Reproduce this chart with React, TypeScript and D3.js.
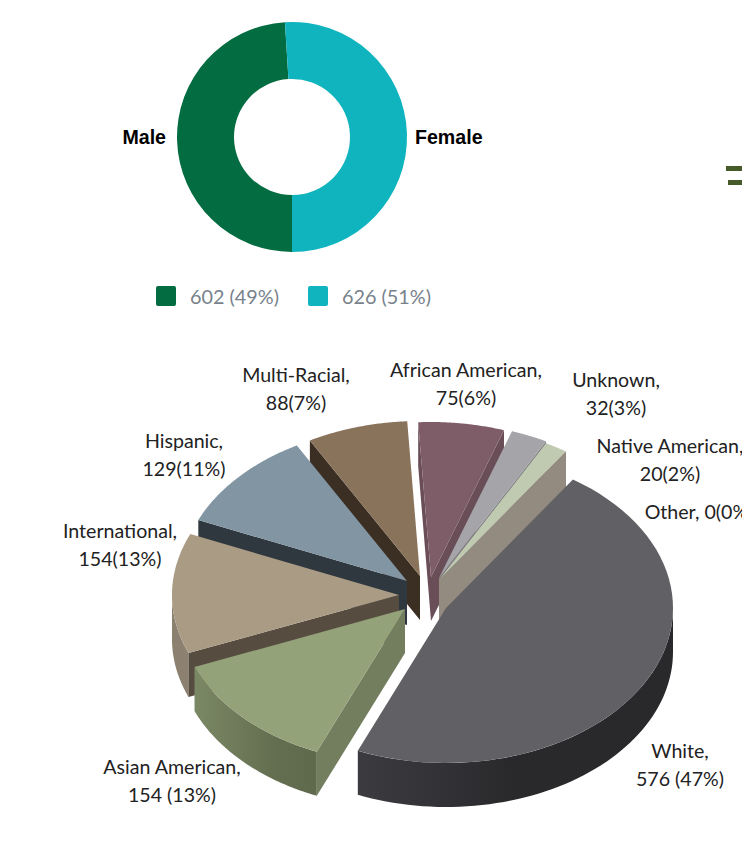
import React from "react";
import * as d3 from "d3";

const genderLabels = ["Male", "Female"];
const genderValues = [602, 626];
const genderLegend = ["602 (49%)", "626 (51%)"];
const genderColors = ["#036c41", "#0fb4be"];

const races = ["White", "Asian American", "International", "Hispanic", "Multi-Racial", "African American", "Unknown", "Native American", "Other"];
const raceValues = [576, 154, 154, 129, 88, 75, 32, 20, 0];
const topColors = ["#616065", "#93a278", "#aa9b84", "#8195a3", "#8a735b", "#7f5d68", "#a5a4a8", "#bfcab0", "#bfcab0"];
const sideColors = ["#2c2c2f", "#6a7556", "#8c8070", "#2f373f", "#3b2e23", "#5e4650", "#7c7b80", "#938b80", "#938b80"];
const faceColors = ["#37363b", "#727e5e", "#564d40", "#2f373f", "#3b2e23", "#6a4e57", "#807f83", "#938b80", "#938b80"];
const explodeX = [31, -10, -16, -8, 5, 16, 24, 24, 24];
const explodeY = [8, 9, -5, -19, -24, -23, -22, -20, -20];
const drawOrder = [5, 6, 7, 8, 4, 3, 2, 1, 0];
const raceLabelLines = [
  ["White,", "576 (47%)"],
  ["Asian American,", "154 (13%)"],
  ["International,", "154(13%)"],
  ["Hispanic,", "129(11%)"],
  ["Multi-Racial,", "88(7%)"],
  ["African American,", "75(6%)"],
  ["Unknown,", "32(3%)"],
  ["Native American,", "20(2%)"],
  ["Other, 0(0%)"],
];
const raceLabelX = [680, 172, 120, 184, 296, 466, 616, 670, 699];
const raceLabelY = [758, 774, 538, 448, 382, 377, 387, 453, 519];

const CX = 415, CY = 600, RX = 227, RY = 155, DEPTH = 44;
const LABEL_FONT = "Lato, Carlito, sans-serif";

const deg = Math.PI / 180;
const racePie = d3.pie<number>().sort(null).startAngle(34 * deg).endAngle(394 * deg);
const genderPie = d3.pie<number>().sort(null).startAngle(Math.PI).endAngle(3 * Math.PI);
const genderArc = d3.arc<d3.PieArcDatum<number>>().innerRadius(58).outerRadius(115);

type P = [number, number];

function rim(a: number, ox: number, oy: number): P {
  return [CX + ox + RX * Math.sin(a), CY + oy - RY * Math.cos(a)];
}

function arcPoints(a0: number, a1: number, ox: number, oy: number): P[] {
  return d3.range(0, 61).map((i) => rim(a0 + ((a1 - a0) * i) / 60, ox, oy));
}

const line = d3.line();

function wedgeParts(i: number, a0: number, a1: number) {
  const ox = explodeX[i], oy = explodeY[i];
  const apex: P = [CX + ox, CY + oy];
  const top = line([apex, ...arcPoints(a0, a1, ox, oy)])! + "Z";
  const down = ([x, y]: P): P => [x, y + DEPTH];
  const parts: { d: string; fill: string }[] = [];
  if (Math.sin(a0) < 0) {
    const p = rim(a0, ox, oy);
    parts.push({ d: line([apex, p, down(p), down(apex)])! + "Z", fill: faceColors[i] });
  }
  if (Math.sin(a1) > 0) {
    const p = rim(a1, ox, oy);
    parts.push({ d: line([apex, p, down(p), down(apex)])! + "Z", fill: faceColors[i] });
  }
  // outer wall: the part of the rim in the lower half of the ellipse
  const lo = Math.max(a0, Math.PI / 2), hi = Math.min(a1, 1.5 * Math.PI);
  let wall: string | null = null;
  if (hi > lo) {
    const pts = arcPoints(lo, hi, ox, oy);
    wall = line([...pts, ...pts.slice().reverse().map(down)])! + "Z";
  }
  return { top, parts, wall };
}

export default function App() {
  const genderArcs = genderPie(genderValues);
  const raceArcs = racePie(raceValues);
  const text = { fontFamily: LABEL_FONT, fontSize: 19.6, fill: "#222", textAnchor: "middle" as const };
  return (
    <svg width={742} height={857} style={{ position: "absolute", left: 0, top: 0, display: "block", background: "#fff" }}>
      <defs>
        <linearGradient id="wall0" gradientUnits="userSpaceOnUse" x1={357} x2={672} y1={0} y2={0}>
          <stop offset="0" stopColor="#3c3b40" />
          <stop offset="0.25" stopColor="#333237" />
          <stop offset="0.5" stopColor="#29292b" />
          <stop offset="1" stopColor="#29292b" />
        </linearGradient>
        <linearGradient id="wall1" gradientUnits="userSpaceOnUse" x1={195} x2={313} y1={0} y2={0}>
          <stop offset="0" stopColor="#7a8865" />
          <stop offset="0.7" stopColor="#636d4f" />
          <stop offset="1" stopColor="#5f694b" />
        </linearGradient>
      </defs>

      {/* gender donut */}
      <g transform="translate(292,137)">
        {genderArcs.map((a, i) => (
          <path key={genderLabels[i]} d={genderArc(a)!} fill={genderColors[i]} />
        ))}
      </g>
      {genderLabels.map((g, i) => (
        <text key={g} x={i === 0 ? 166 : 415} y={144} textAnchor={i === 0 ? "end" : "start"}
          fontFamily="Liberation Sans, Arial, sans-serif" fontWeight="bold" fontSize={19.6} fill="#000">
          {g}
        </text>
      ))}
      {genderLegend.map((t, i) => {
        const x = i === 0 ? 156 : 308;
        return (
          <g key={t}>
            <rect x={x} y={286} width={20} height={20} rx={2} fill={genderColors[i]} />
            <text x={x + 34} y={304} fontFamily={LABEL_FONT} fontSize={20} fill="#78828c" textLength={89} lengthAdjust="spacingAndGlyphs">{t}</text>
          </g>
        );
      })}

      {/* stray decoration at the right edge */}
      <rect x={726} y={166} width={16} height={5} fill="#475a2a" />
      <rect x={728} y={180} width={14} height={5} fill="#475a2a" />

      {/* exploded 3D pie */}
      {drawOrder.map((i) => {
        const a = raceArcs[i];
        const w = wedgeParts(i, a.startAngle, a.endAngle);
        return (
          <g key={races[i]}>
            {w.wall && <path d={w.wall} fill={i < 2 ? `url(#wall${i})` : sideColors[i]} />}
            {w.parts.map((p, k) => <path key={k} d={p.d} fill={p.fill} />)}
            <path d={w.top} fill={topColors[i]} />
          </g>
        );
      })}

      {races.map((r, i) => (
        <text key={r} {...text} x={raceLabelX[i]} y={raceLabelY[i]}>
          {raceLabelLines[i].map((l, k) => (
            <tspan key={k} x={raceLabelX[i]} dy={k === 0 ? 0 : 28}>{l}</tspan>
          ))}
        </text>
      ))}
    </svg>
  );
}
